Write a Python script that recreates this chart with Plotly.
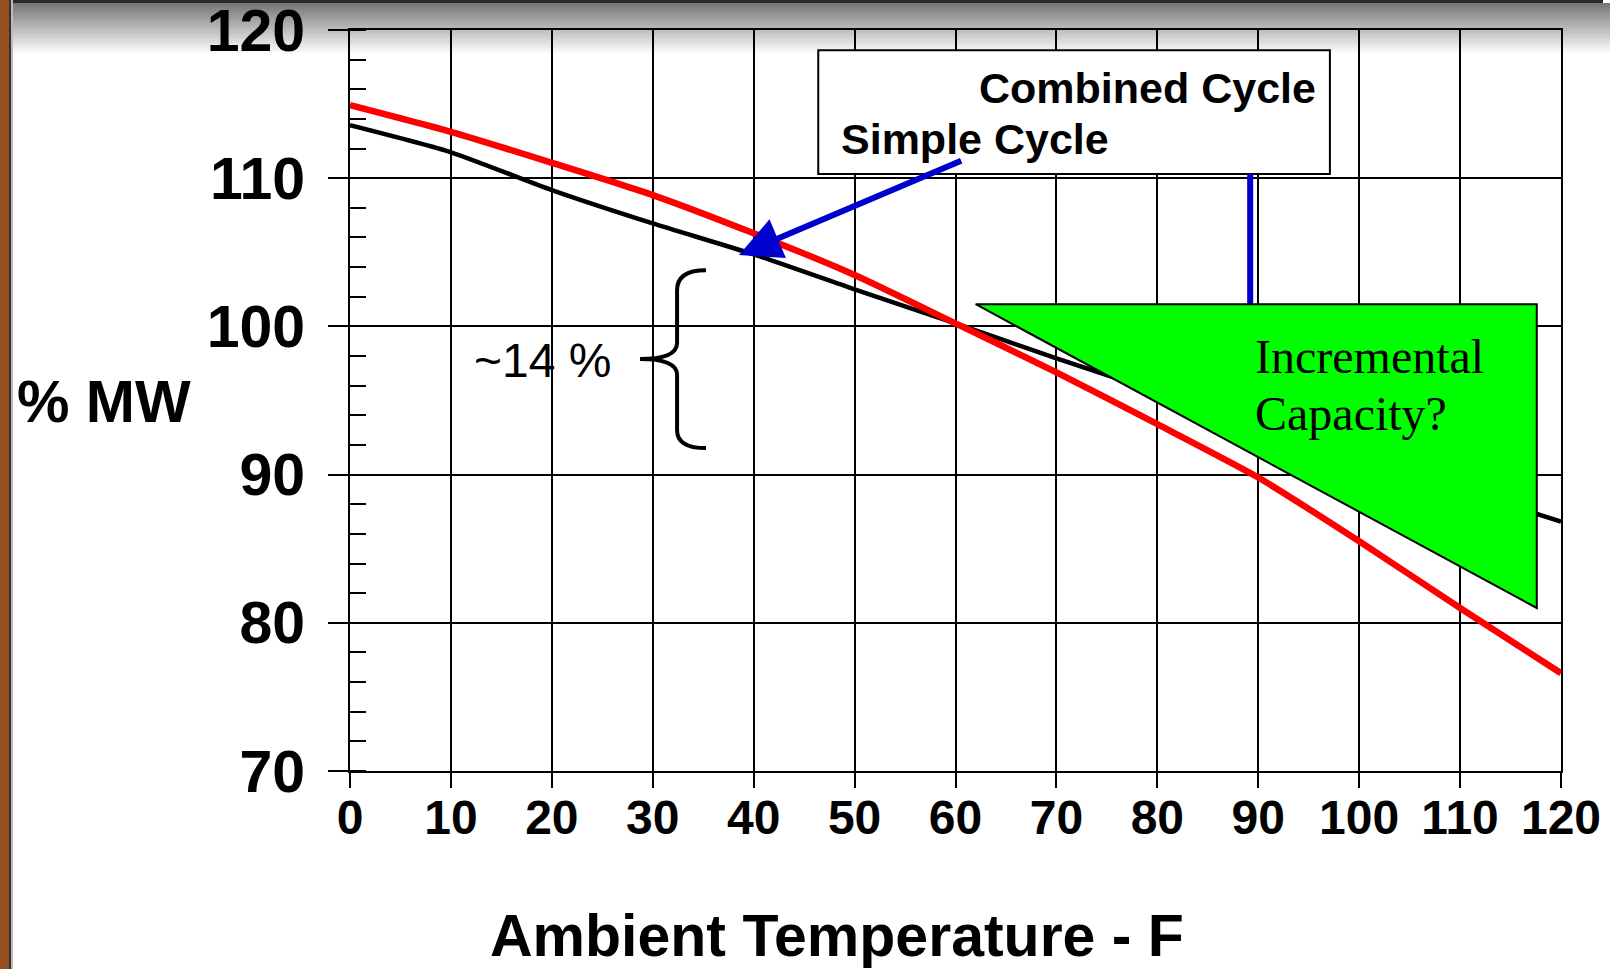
import plotly.graph_objects as go

# ---- data ----
temp_f = [0, 10, 20, 30, 40, 50, 60, 70, 80, 90, 100, 110, 120]
combined_cycle = [114.93, 113.13, 111.04, 108.86, 106.28, 103.47, 100.2, 96.9, 93.4, 89.8, 85.5, 81.0, 76.6]
simple_cycle = [113.57, 111.75, 109.2, 106.95, 104.86, 102.5, 100.2, 97.85, 95.6, 93.4, 91.2, 89.0, 86.83]

x_ticks = list(range(0, 121, 10))
y_ticks = list(range(70, 121, 10))

W, H = 1610, 969
L, R, T, B = 350, 49, 30, 198
PW = W - L - R
PH = H - T - B


def px_x(X):
    return (X - L) / PW


def px_y(Y):
    return (H - B - Y) / PH


fig = go.Figure()
fig.add_trace(go.Scatter(x=temp_f, y=simple_cycle, mode="lines", name="Simple Cycle",
                         line=dict(color="black", width=4.5, shape="spline", smoothing=0.6),
                         showlegend=False))
fig.add_trace(go.Scatter(x=temp_f, y=combined_cycle, mode="lines", name="Combined Cycle",
                         line=dict(color="#FF0000", width=6.5, shape="spline", smoothing=0.6),
                         showlegend=False))

shapes = []
# slide background decoration
shapes.append(dict(type="rect", xref="paper", yref="paper", layer="below",
                   x0=px_x(0), x1=px_x(W), y0=px_y(H), y1=px_y(0),
                   fillcolor="white", line=dict(width=0)))
n = 26
for i in range(n):
    c = int(120 + (255 - 120) * i / (n - 1))
    shapes.append(dict(type="rect", xref="paper", yref="paper", layer="below",
                       x0=px_x(0), x1=px_x(W), y0=px_y(3 + 2 * i + 2), y1=px_y(3 + 2 * i),
                       fillcolor=f"rgb({c},{c},{c})", line=dict(width=0)))
shapes.append(dict(type="rect", xref="paper", yref="paper", layer="below",
                   x0=px_x(0), x1=px_x(1603), y0=px_y(3), y1=px_y(0),
                   fillcolor="#2a2a2a", line=dict(width=0)))
shapes.append(dict(type="rect", xref="paper", yref="paper", layer="below",
                   x0=px_x(0), x1=px_x(9), y0=px_y(H), y1=px_y(0),
                   fillcolor="#94501F", line=dict(width=0)))
shapes.append(dict(type="rect", xref="paper", yref="paper", layer="below",
                   x0=px_x(9), x1=px_x(11), y0=px_y(H), y1=px_y(0),
                   fillcolor="#333333", line=dict(width=0)))
shapes.append(dict(type="rect", xref="paper", yref="paper", layer="below",
                   x0=px_x(11), x1=px_x(13), y0=px_y(H), y1=px_y(0),
                   fillcolor="#bbbbbb", line=dict(width=0)))

# legend box
shapes.append(dict(type="rect", xref="x", yref="y", layer="above",
                   x0=46.4, x1=97.1, y0=110.28, y1=118.64,
                   fillcolor="white", line=dict(color="black", width=2)))
# blue connector
shapes.append(dict(type="line", xref="x", yref="y", layer="above",
                   x0=89.2, x1=89.2, y0=110.28, y1=101.5,
                   line=dict(color="#0000CC", width=6)))
# green triangle
shapes.append(dict(type="path", xref="x", yref="y", layer="above",
                   path="M 62.0,101.5 L 117.6,101.5 L 117.6,81.0 Z",
                   fillcolor="#00FF00", line=dict(color="black", width=2)))
# brace
shapes.append(dict(type="path", xref="x", yref="y", layer="above",
                   path=("M 35.28,103.79 Q 32.41,103.79 32.41,102.45 L 32.41,98.88 "
                         "Q 32.41,97.8 28.74,97.8 Q 32.41,97.8 32.41,96.73 L 32.41,93.0 "
                         "Q 32.41,91.79 35.28,91.79"),
                   line=dict(color="black", width=4)))

bold = dict(family="Liberation Sans, Arial", color="black", weight="bold")
annotations = [
    dict(xref="x", yref="y", x=62.14, y=116.11, text="Combined Cycle", showarrow=False,
         xanchor="left", yanchor="middle", font=dict(**bold, size=43)),
    dict(xref="x", yref="y", x=48.46, y=112.64, text="Simple Cycle", showarrow=False,
         xanchor="left", yanchor="middle", font=dict(**bold, size=43)),
    dict(xref="x", yref="y", axref="x", ayref="y", x=38.55, y=104.81, ax=60.71, ay=111.22,
         text="", showarrow=True, arrowhead=2, arrowsize=1.4, arrowwidth=6, arrowcolor="#0000CC"),
    dict(xref="x", yref="y", x=12.09, y=97.73, text="~14 %", showarrow=False,
         xanchor="left", yanchor="middle",
         font=dict(family="Liberation Sans, Arial", size=48, color="black")),
    dict(xref="x", yref="y", x=89.44, y=98.0, text="Incremental", showarrow=False,
         xanchor="left", yanchor="middle",
         font=dict(family="Liberation Serif, Times New Roman", size=48, color="black")),
    dict(xref="x", yref="y", x=89.44, y=94.09, text="Capacity?", showarrow=False,
         xanchor="left", yanchor="middle",
         font=dict(family="Liberation Serif, Times New Roman", size=48, color="black")),
    dict(xref="paper", yref="paper", x=px_x(15), y=px_y(402), text="% MW", showarrow=False,
         xanchor="left", yanchor="middle", font=dict(**bold, size=59)),
    dict(xref="paper", yref="paper", x=px_x(837), y=px_y(936), text="Ambient Temperature - F",
         showarrow=False, xanchor="center", yanchor="middle", font=dict(**bold, size=59)),
]

fig.update_layout(
    width=W, height=H,
    margin=dict(l=L, r=R, t=T, b=B, pad=0, autoexpand=False),
    paper_bgcolor="white",
    plot_bgcolor="rgba(0,0,0,0)",
    shapes=shapes,
    annotations=annotations,
    showlegend=False,
)
fig.update_xaxes(range=[0, 120], tickvals=x_ticks, ticktext=[str(v) for v in x_ticks],
                 showgrid=True, gridcolor="black", gridwidth=2,
                 showline=True, linecolor="black", linewidth=2, mirror=True,
                 ticks="outside", ticklen=15, tickwidth=2, tickcolor="black",
                 tickfont=dict(**bold, size=48), ticklabelstandoff=-12,
                 ticklabeloverflow="allow", automargin=False, zeroline=False)
fig.update_yaxes(range=[70, 120], tickvals=y_ticks, ticktext=[str(v) for v in y_ticks],
                 showgrid=True, gridcolor="black", gridwidth=2,
                 showline=True, linecolor="black", linewidth=2, mirror=True,
                 ticks="outside", ticklen=20, tickwidth=2, tickcolor="black",
                 tickfont=dict(**bold, size=59), ticklabelstandoff=11,
                 ticklabeloverflow="allow", automargin=False, zeroline=False,
                 minor=dict(dtick=2, ticks="inside", ticklen=16, tickwidth=2,
                            tickcolor="black", showgrid=False))

fig.write_html("out.html", config={"displayModeBar": False},
               post_script="document.body.style.margin='0';document.body.style.overflow='hidden';")
